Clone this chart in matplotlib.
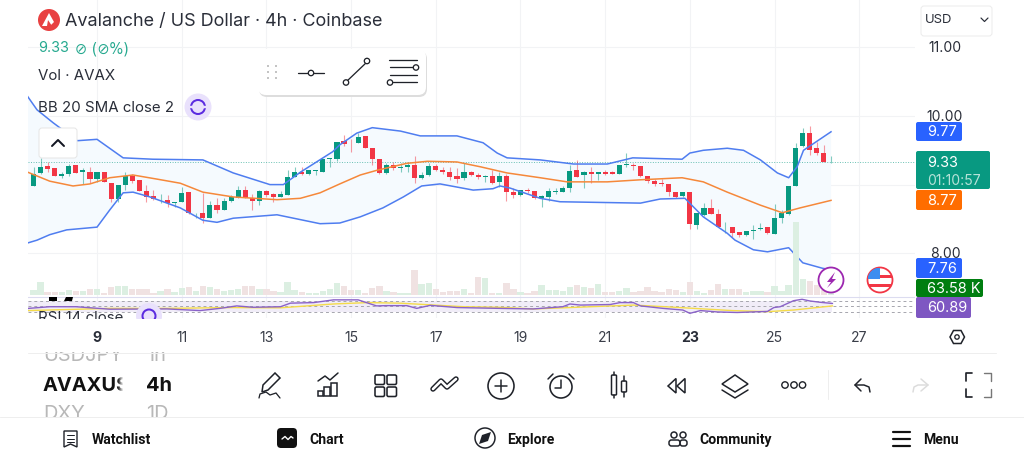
import matplotlib
matplotlib.use('Agg')
import matplotlib.pyplot as plt
import numpy as np
from matplotlib.patches import Circle, FancyBboxPatch, Polygon, Rectangle

plt.rcParams['font.family'] = ['Inter', 'DejaVu Sans']

# 4h candles
opens = [8.98, 9.17, 9.27, 9.24, 9.125, 9.15, 9.28, 9.18, 9.19, 9.08, 9.18, 9.03, 8.79, 9.00, 9.13, 9.07, 8.91, 8.84, 8.785,
         8.78, 8.73, 8.75, 8.89, 8.58, 8.585, 8.51, 8.70, 8.63, 8.755, 8.81, 8.915, 8.80, 8.765, 8.90, 8.86, 8.82, 8.85,
         9.105, 9.18, 9.15, 9.20, 9.19, 9.38, 9.37, 9.635, 9.61, 9.606, 9.71, 9.54, 9.38, 9.17, 9.28, 9.24, 9.26, 9.285,
         9.09, 9.135, 9.27, 9.21, 9.19, 9.125, 9.09, 9.18, 9.14, 9.11, 9.13, 9.04, 9.125, 8.89, 8.85, 8.92, 8.90, 8.80,
         8.82, 8.89, 8.895, 8.95, 9.21, 9.14, 9.19, 9.16, 9.19, 9.18, 9.15, 9.28, 9.29, 9.275, 9.125, 9.055, 9.02, 9.01,
         8.89, 8.83, 8.89, 8.415, 8.55, 8.66, 8.57, 8.375, 8.38, 8.31, 8.265, 8.32, 8.35, 8.375, 8.285, 8.52, 8.57, 8.98,
         9.56, 9.757, 9.53, 9.46, 9.33]
highs = [9.26, 9.39, 9.33, 9.24, 9.19, 9.30, 9.28, 9.24, 9.26, 9.19, 9.18, 9.03, 9.00, 9.19, 9.15, 9.07, 8.99, 8.92, 8.87,
         8.85, 8.75, 8.97, 8.89, 8.59, 8.88, 8.765, 8.81, 8.80, 8.85, 8.98, 8.98, 8.87, 8.92, 8.92, 8.88, 8.91, 9.22,
         9.25, 9.26, 9.22, 9.21, 9.38, 9.39, 9.62, 9.72, 9.67, 9.75, 9.71, 9.54, 9.38, 9.31, 9.33, 9.31, 9.33, 9.42,
         9.19, 9.31, 9.295, 9.26, 9.26, 9.24, 9.31, 9.20, 9.17, 9.14, 9.21, 9.19, 9.16, 8.945, 8.92, 8.945, 8.90, 8.85,
         8.945, 8.945, 8.98, 9.285, 9.36, 9.20, 9.26, 9.19, 9.21, 9.20, 9.285, 9.455, 9.32, 9.275, 9.125, 9.075, 9.075, 9.01,
         8.89, 8.89, 8.89, 8.59, 8.73, 8.785, 8.65, 8.45, 8.38, 8.31, 8.32, 8.41, 8.44, 8.375, 8.72, 8.63, 8.98, 9.60,
         9.82, 9.85, 9.625, 9.575, 9.41]
lows = [8.98, 9.16, 9.19, 9.13, 9.10, 9.125, 9.17, 9.01, 9.02, 9.04, 9.04, 8.74, 8.75, 8.92, 9.02, 8.90, 8.75, 8.775, 8.73,
        8.68, 8.67, 8.75, 8.57, 8.51, 8.445, 8.51, 8.59, 8.63, 8.75, 8.80, 8.80, 8.63, 8.70, 8.82, 8.75, 8.815, 8.85,
        9.105, 9.14, 9.145, 9.14, 9.19, 9.26, 9.35, 9.56, 9.48, 9.60, 9.53, 9.29, 9.15, 9.16, 9.21, 9.19, 9.19, 9.02,
        9.08, 9.125, 9.20, 9.16, 9.06, 9.02, 9.06, 9.13, 9.08, 9.04, 9.01, 8.96, 8.765, 8.81, 8.84, 8.88, 8.79, 8.68,
        8.765, 8.87, 8.89, 8.895, 9.115, 8.945, 9.02, 9.07, 9.14, 9.15, 9.15, 9.25, 9.22, 9.115, 9.03, 8.98, 8.98, 8.83,
        8.81, 8.82, 8.36, 8.36, 8.54, 8.57, 8.375, 8.29, 8.24, 8.23, 8.25, 8.20, 8.34, 8.28, 8.28, 8.435, 8.56, 8.98,
        9.55, 9.43, 9.435, 9.33, 9.32]
closes = [9.16, 9.26, 9.23, 9.13, 9.15, 9.27, 9.17, 9.21, 9.08, 9.19, 9.04, 8.79, 9.00, 9.13, 9.05, 8.91, 8.82, 8.79, 8.79,
          8.73, 8.75, 8.88, 8.58, 8.59, 8.52, 8.70, 8.63, 8.755, 8.82, 8.915, 8.80, 8.765, 8.90, 8.85, 8.82, 8.86, 9.11,
          9.18, 9.15, 9.21, 9.21, 9.38, 9.39, 9.62, 9.59, 9.60, 9.70, 9.54, 9.38, 9.17, 9.29, 9.24, 9.26, 9.285, 9.09,
          9.14, 9.27, 9.21, 9.19, 9.115, 9.085, 9.18, 9.14, 9.11, 9.13, 9.03, 9.125, 8.89, 8.85, 8.915, 8.90, 8.80, 8.83,
          8.90, 8.905, 8.95, 9.20, 9.115, 9.18, 9.16, 9.18, 9.16, 9.16, 9.285, 9.295, 9.27, 9.12, 9.05, 9.01, 9.01, 8.885,
          8.82, 8.89, 8.425, 8.59, 8.66, 8.575, 8.375, 8.385, 8.30, 8.26, 8.32, 8.34, 8.365, 8.29, 8.52, 8.58, 8.98, 9.53,
          9.757, 9.51, 9.46, 9.33, 9.335]

# volume, thousands
volumes = [45, 117, 27, 27, 27, 45, 36, 36, 54, 54, 18, 72, 81, 81, 54, 54, 54, 18, 36, 54, 27, 63, 72, 36, 81, 72, 54, 36,
           45, 54, 81, 81, 54, 54, 36, 27, 117, 45, 27, 18, 18, 36, 54, 108, 81, 45, 45, 18, 63, 81, 36, 27, 18, 18, 225,
           99, 108, 54, 27, 36, 36, 54, 18, 162, 153, 18, 18, 108, 54, 27, 18, 36, 90, 45, 45, 36, 72, 90, 72, 63, 99, 27,
           27, 36, 63, 27, 36, 72, 36, 27, 54, 45, 27, 117, 36, 18, 45, 99, 54, 54, 54, 27, 36, 36, 27, 81, 36, 90, 657,
           144, 126, 90, 45, 63.58]

# Bollinger bands, read at the bends of each line
upper_idx = [-0.8, 0.5, 2.8, 6.2, 9, 12.7, 16.9, 24, 28.3, 33.5, 35.4, 37.8, 42.4, 43.4, 45.8, 48, 52, 54.8, 60, 63.7, 65.7,
             67.1, 71.8, 76.5, 81.3, 84.9, 91.9, 93, 94.9, 98.3, 100.6, 103, 105.4, 107, 108.2, 109.1, 113]
upper = [10.28, 10.09, 9.90, 9.64, 9.66, 9.39, 9.37, 9.36, 9.17, 9.00, 9.00, 9.18, 9.48, 9.58, 9.75, 9.83, 9.78, 9.71, 9.71,
         9.61, 9.46, 9.39, 9.36, 9.30, 9.30, 9.39, 9.37, 9.46, 9.50, 9.53, 9.50, 9.36, 9.17, 9.10, 9.26, 9.50, 9.77]
lower_idx = [-0.8, 0.5, 2.3, 4.7, 9, 10.8, 12.7, 14.1, 16.5, 20.8, 24, 26, 28.3, 34.5, 40.6, 43.4, 46.3, 49.5, 52.4, 55, 57.6,
             62.3, 65.1, 66.1, 67.5, 71.8, 74.6, 86, 88.8, 92.3, 94.9, 98.3, 99.4, 102, 104, 107, 109, 111.8, 113]
lower = [8.15, 8.19, 8.27, 8.34, 8.38, 8.63, 8.88, 8.89, 8.82, 8.66, 8.48, 8.45, 8.51, 8.56, 8.43, 8.44, 8.53, 8.66, 8.82,
         8.98, 9.01, 8.92, 8.94, 8.98, 8.95, 8.80, 8.75, 8.73, 8.79, 8.80, 8.53, 8.29, 8.19, 8.05, 8.02, 8.08, 7.86, 7.78, 7.76]
basis_idx = [-0.8, 2.3, 5.6, 8, 10.8, 14.1, 17.5, 20.8, 24, 28.3, 34.5, 37.8, 40.6, 43.4, 46.3, 48.7, 52.9, 55.8, 60, 63.3,
             67.1, 71.8, 75.6, 81.3, 86, 91.9, 94.9, 98.3, 103, 106.1, 108.6, 113]
basis = [9.18, 9.05, 8.98, 9.01, 9.10, 9.14, 9.08, 9.02, 8.89, 8.82, 8.78, 8.80, 8.88, 9.01, 9.14, 9.21, 9.31, 9.34, 9.33,
         9.26, 9.17, 9.10, 9.04, 9.04, 9.07, 9.10, 9.04, 8.89, 8.70, 8.59, 8.66, 8.77]

# RSI pane
rsi_idx = [-0.7, 2.3, 6, 10.8, 18.9, 23.6, 26.4, 28.8, 31.1, 35, 36.4, 39.7, 42.5, 46, 48.6, 50, 52.9, 54.3, 56.2, 60, 66, 70.8,
           75, 76, 77.5, 81.7, 83.1, 85, 86, 89.2, 92, 93, 94.5, 96.9, 99.7, 104, 104.9, 105.8, 107.7, 108.9, 110, 111.5, 113.2]
rsi = [43, 49, 49, 40, 41, 35, 43, 52, 47, 49, 62, 64, 74, 74, 52, 53, 53, 43, 54, 46, 43, 41, 49, 59, 55, 57, 64, 64, 52, 43,
       37, 25, 35, 30, 28, 32, 46, 49, 71, 76, 70, 65, 60.89]
rsi_ma_idx = [-0.7, 10.8, 18.9, 28, 35, 42.5, 47.3, 51.9, 61, 66, 70.8, 76, 85, 89.5, 99, 104, 107.7, 113.2]
rsi_ma = [35, 43, 43, 46, 45, 59, 64, 62, 49, 47, 41, 46, 55, 49, 35, 31, 37, 52]

tick_idx = [9, 21, 33, 45, 57, 69, 81, 93, 105, 117]
tick_labels = ['9', '11', '13', '15', '17', '19', '21', '23', '25', '27']
bold_ticks = ['9', '23']
price_ticks = [8, 9, 10, 11]
last_price = 9.33

GREEN = '#089981'
RED = '#f23645'
BLUE = '#2962ff'
ORANGE = '#ff6d00'
PURPLE = '#7e57c2'
GRID = '#f2f3f5'
INK = '#1f2229'
W, H = 1024, 461
IDX_RANGE = (-0.78, 124.9)


def pane(x0, y0, x1, y1):
    """Axes placed by pixel box, y counted from the top"""
    ax = fig.add_axes([x0 / W, 1 - y1 / H, (x1 - x0) / W, (y1 - y0) / H])
    ax.patch.set_alpha(0)
    ax.set_axis_off()
    ax.set_xlim(*IDX_RANGE)
    return ax


def line(xs, ys, color=INK, lw=1.5, z=30):
    ui.plot(xs, ys, color=color, lw=lw * 0.72, solid_capstyle='round', solid_joinstyle='round', zorder=z)


def ring(x, y, r, color=INK, lw=1.5, fill='none', z=30):
    ui.add_patch(Circle((x, y), r, fc=fill, ec=color, lw=lw * 0.72, zorder=z))


def box(x0, y0, x1, y1, color, r=2, ec='none', lw=1, z=20):
    p = FancyBboxPatch((x0, y0), x1 - x0, y1 - y0, boxstyle=f'round,pad=0,rounding_size={r}', fc=color, ec=ec,
                       lw=lw * 0.72, zorder=z)
    ui.add_patch(p)
    return p


def label(x, y, s, px=14, color=INK, weight='normal', ha='left', family=None, z=40):
    # va center sits a little high for these fonts
    return ui.text(x, y + 1.5, s, fontsize=px * 0.72, color=color, fontweight=weight, ha=ha, va='center',
                   family=family or ['Inter', 'DejaVu Sans'], zorder=z)


fig = plt.figure(figsize=(W / 100, H / 100), dpi=100, facecolor='white')

# price pane
price_to_px = 68.6
ax = pane(28, 0, 915, 296)
ax.set_ylim(10 - 180 / price_to_px, 10 + 116 / price_to_px)
for t in tick_idx:
    ax.axvline(t, color=GRID, lw=0.8, zorder=0)
for p in price_ticks:
    ax.axhline(p, color=GRID, lw=0.8, zorder=0)
ax.fill(upper_idx + lower_idx[::-1], upper + lower[::-1], color='#f5fafe', lw=0, zorder=1)
ax.axhline(last_price, color=GREEN, lw=0.7, ls=(0, (1, 1.6)), alpha=0.6, zorder=2)

idx = np.arange(len(opens))
opens_a, highs_a, lows_a, closes_a = map(np.array, (opens, highs, lows, closes))
up = closes_a >= opens_a
colors = np.where(up, GREEN, RED)
ax.vlines(idx, lows_a, highs_a, colors=colors, lw=0.8, alpha=0.5, zorder=4)
ax.bar(idx, np.abs(closes_a - opens_a), bottom=np.minimum(opens_a, closes_a), width=0.72, color=colors, lw=0, zorder=5)
ax.plot(upper_idx, upper, color='#4f7df0', lw=1.1, zorder=6)
ax.plot(lower_idx, lower, color='#4f7df0', lw=1.1, zorder=6)
ax.plot(basis_idx, basis, color='#f5883a', lw=1.1, zorder=6)

# volume shares the bottom of the price pane
vol = pane(28, 100, 915, 295)
vol.set_ylim(0, 1755)
vol.bar(idx, volumes, width=0.9, color=np.where(up, '#dcefe2', '#f0e2e2'), lw=0, zorder=3)

# RSI pane
rp = pane(28, 296, 915, 318)
rp.set_ylim(8, 88)
for t in tick_idx:
    rp.axvline(t, color=GRID, lw=0.8, zorder=0)
rp.axhspan(30, 70, xmin=0, xmax=(113.2 - IDX_RANGE[0]) / (IDX_RANGE[1] - IDX_RANGE[0]), color='#f1edf8', lw=0, zorder=1)
for lvl in (30, 50, 70):
    rp.axhline(lvl, color='#a6a6ae', lw=0.7, ls=(0, (3, 3)), zorder=2)
rp.axhline(86, color='#dcdcf0', lw=0.8, zorder=2)
rp.plot(rsi_ma_idx, rsi_ma, color='#f5dc4a', lw=1.0, zorder=3)
rp.plot(rsi_idx, rsi, color='#8a62c8', lw=1.0, zorder=4)

# interface layer in pixels
ui = fig.add_axes([0, 0, 1, 1])
ui.patch.set_alpha(0)
ui.set_axis_off()
ui.set_xlim(0, W)
ui.set_ylim(H, 0)

# header
ring(49, 20, 11, color='#e84142', fill='#e84142', lw=0)
ui.add_patch(Polygon([(49, 13), (54, 22), (50, 26), (42, 26)], fc='white', ec='none', zorder=31))
ui.add_patch(Polygon([(48, 20), (52, 26), (47, 26)], fc='#e84142', ec='none', zorder=32))
label(65, 20, 'Avalanche / US Dollar · 4h · Coinbase', 18, '#2a2e39')
label(38, 47, '9.33', 14.5, '#26a98f')
label(75, 47, '⊘ (⊘%)', 14.5, '#26a98f', family=['DejaVu Sans'])
label(38, 74, 'Vol · AVAX', 15, '#2a2e39')
label(38, 106, 'BB 20 SMA close 2', 15, '#2a2e39')
ring(198, 107, 13.5, color='none', fill='#e9e1fc', lw=0, z=25)
ring(198, 107, 7, color='#5b2be0', lw=2)
line([188.5, 193], [107, 107], '#e9e1fc', 2.5, 31)
line([203, 207.5], [107, 107], '#e9e1fc', 2.5, 31)

# drawing toolbar
box(259, 51, 427, 97, '#dddddd', 8, z=18)
box(258, 49, 426, 95, 'white', 8, z=19)
for gx in (268, 276):
    for gy in (66, 72, 78):
        ui.add_patch(Rectangle((gx - 1, gy - 1), 2, 2, fc='#c4c4c4', ec='none', zorder=30))
line([298, 324], [73, 73], lw=1.3)
ring(311, 73, 2.7, fill='white', lw=1.3, z=31)
line([346, 367], [82, 62], lw=1.3)
ring(346, 82.5, 2.7, fill='white', lw=1.3, z=31)
ring(367, 61, 2.7, fill='white', lw=1.3, z=31)
for ly, x0, x1 in ((60, 389, 417), (67.5, 390, 413), (75, 390, 417), (82.5, 393, 417)):
    line([x0, x1], [ly, ly], lw=1.3)
ring(416, 67.5, 2.7, fill='white', lw=1.3, z=31)
ring(390, 82.5, 2.7, fill='white', lw=1.3, z=31)

# collapse button
box(39, 128, 77, 158, 'white', 3, ec='#e6e6e6')
line([52, 58, 64], [146, 140, 146], '#131722', 2)

# right scale
box(921, 6, 992, 36, 'white', 3, ec='#ececec')
label(925, 18.5, 'USD', 13, '#2a2e39')
line([981, 984.5, 988], [18, 21.5, 18], '#2a2e39', 1.2)
for p_txt, py in (('11.00', 46), ('10.00', 115), ('8.00', 252)):
    label(945, py, p_txt, 14, '#2a2e39', ha='center')
tags = [(122, 141, 962, BLUE, '9.77'), (190, 210, 962, ORANGE, '8.77'), (258, 278, 962, BLUE, '7.76'),
        (279, 297, 983, '#007e10', '63.58 K'), (297, 318, 971, PURPLE, '60.89')]
for y0, y1, x1, col, txt in tags:
    box(916, y0, x1, y1, col)
    label(927, (y0 + y1) / 2 - 1, txt, 14.5, 'white')
box(916, 151, 990, 189, GREEN)
label(927, 161, '9.33', 14.5, 'white')
label(927, 179, '01:10:57', 14, '#b5e2d8')

# event badges
ring(831, 280, 12.5, color='#9c27b0', fill='white', lw=1.8, z=26)
ui.add_patch(Polygon([(835, 272), (827, 282), (831, 282), (827, 288), (836, 279), (832, 279)], fc='#9c27b0', ec='none', zorder=27))
face = Circle((880, 280), 12.5, fc='white', ec='#f23645', lw=1.8 * 0.72, zorder=26)
ui.add_patch(face)
for sy in (275, 283.5):
    ui.add_patch(Rectangle((868, sy), 25, 3.4, fc='#f23645', ec='none', zorder=27, clip_path=face))
ui.add_patch(Rectangle((868, 268), 12, 11, fc='#3d8ef0', ec='none', zorder=28, clip_path=face))

# RSI legend cut off by the axis strip
label(38, 316, 'RSI 14 close', 15, '#2a2e39', z=22)
ring(149, 316, 13, color='none', fill='#e9e1fc', lw=0, z=21)
ring(149, 316, 6.5, color='#5b2be0', lw=2, z=22)
ui.add_patch(Rectangle((28, 319), 180, 14, fc='white', ec='none', zorder=23))
ui.add_patch(Rectangle((49, 297), 8, 4, fc='black', ec='none', zorder=24))
ui.add_patch(Polygon([(64, 301), (66, 297), (73, 297), (72, 301)], fc='black', ec='none', zorder=24))

# x axis
for t, s in zip(tick_idx, tick_labels):
    px = 28 + (t - IDX_RANGE[0]) / (IDX_RANGE[1] - IDX_RANGE[0]) * 887
    label(px, 336, s, 14, '#2a2e39' if s in bold_ticks else '#3a3e49', 'bold' if s in bold_ticks else 'normal', 'center')
ui.add_patch(Polygon([(950, 337), (953.5, 330.5), (961, 330.5), (964.5, 337), (961, 343.5), (953.5, 343.5)], fc='none', ec=INK, lw=1.1, zorder=30))
ring(957, 337, 2.2, lw=1.3)

# symbol picker
for sx, sy, s, c, w in ((43, 354, 'USDJPY', '#b8b8b8', 'normal'), (146, 354, '1h', '#b8b8b8', 'normal'),
                        (43, 384, 'AVAXUS', '#111111', 'bold'), (146, 384, '4h', '#111111', 'bold'),
                        (43, 412, 'DXY', '#b8b8b8', 'normal'), (146, 412, '1D', '#b8b8b8', 'normal')):
    label(sx, sy, s, 20, c, w, z=10)
ui.imshow(np.array([[[1, 1, 1, 0], [1, 1, 1, 1]]], dtype=float), extent=(115, 126, 420, 345), aspect='auto', zorder=11,
          interpolation='bilinear')
ui.add_patch(Rectangle((126, 345), 14, 75, fc='white', ec='none', zorder=11))
ui.set_xlim(0, W)
ui.set_ylim(H, 0)
ui.add_patch(Rectangle((30, 342), 150, 10, fc='white', ec='none', zorder=12))
ui.add_patch(Rectangle((30, 417), 150, 12, fc='white', ec='none', zorder=12))
line([28, 996], [352.5, 352.5], '#eeeeee', 1, 13)
line([0, W], [417, 417], '#eeeeee', 1, 13)

# toolbar icons
ui.add_patch(Polygon([(263, 385), (275, 373), (280, 378), (268, 390), (262, 392)], fc='none', ec=INK, lw=1.1, zorder=30))
line([259, 260, 266, 270, 276, 280], [398, 394, 392, 395, 393, 398], lw=1.3)
line([318, 325, 330, 338], [381, 376, 380, 373], lw=1.5)
for bx, by, bw in ((318, 391, 5), (324, 387, 6), (331, 383, 6)):
    ui.add_patch(Rectangle((bx, by), bw, 396 - by, fc='none', ec=INK, lw=1.1, zorder=30))
for sx, sy in ((375, 375), (387, 375), (375, 387), (387, 387)):
    box(sx, sy, sx + 9.5, sy + 9.5, 'none', 1.5, ec=INK, lw=1.6, z=30)
line([433, 441, 447, 456], [389, 381, 387, 379], INK, 5.5)
line([433, 441, 447, 456], [389, 381, 387, 379], 'white', 2.6, 31)
ring(501, 386, 13, lw=1.6)
line([495, 507], [386, 386])
line([501, 501], [380, 392])
ring(561, 387, 11, lw=1.6)
line([561, 561, 555], [380, 388, 388])
line([548, 553], [379, 374])
line([574, 569], [379, 374])
for cx, cy0, cy1, wy0, wy1 in ((614, 375, 395, 372, 398), (624, 381, 392, 376, 397)):
    line([cx, cx], [wy0, cy0])
    line([cx, cx], [cy1, wy1])
    box(cx - 2.5, cy0, cx + 2.5, cy1, 'none', 1, ec=INK, lw=1.5, z=30)
for tx in (668, 677):
    ui.add_patch(Polygon([(tx, 386), (tx + 8, 378.5), (tx + 8, 393)], fc='none', ec=INK, lw=1.1, zorder=30))
ui.add_patch(Polygon([(735, 375), (748, 384), (735, 392), (722, 384)], fc='none', ec=INK, lw=1.1, zorder=30))
line([722, 735, 748], [390, 398, 390])
for dx in (785, 794, 802.5):
    ring(dx, 385, 3.2, lw=1.4)
line([828, 828], [370, 399], '#eeeeee', 1)
line([861, 855, 861], [379, 385, 391])
line([855, 864, 869, 870], [385, 385, 387, 392])
line([921, 928, 921], [379, 385, 391], '#dcdcdc')
line([928, 918, 914, 913], [385, 385, 387, 392], '#dcdcdc')
line([966, 966, 972], [381, 373, 373], lw=1.7)
line([984, 991, 991], [373, 373, 381], '#777777', 1.4)
line([966, 966, 972], [389, 397, 397], lw=1.7)
line([984, 991, 991], [397, 397, 389], '#777777', 1.4)

# bottom navigation
nav_font = ['Roboto', 'DejaVu Sans']
for nx, s in ((92, 'Watchlist'), (309, 'Chart'), (507, 'Explore'), (699, 'Community'), (923, 'Menu')):
    label(nx, 438, s, 14, '#111111', 'bold', family=nav_font)
ui.add_patch(Polygon([(64, 431), (77, 431), (77, 447), (70.5, 444), (64, 447)], fc='none', ec=INK, lw=1, zorder=30))
for ly in (435, 438.5, 442):
    line([67, 74], [ly, ly], lw=1)
box(277, 428, 297, 448, '#111111', 4)
line([282, 285, 288, 291, 293], [439, 436.5, 439.5, 436.5, 438], 'white', 1.4)
ring(485, 438, 10, lw=1.5)
ui.add_patch(Polygon([(491, 432), (488, 441), (479, 444), (482, 435)], fc=INK, ec='none', zorder=31))
ring(674, 435, 3, lw=1.5)
ring(683, 435, 3, lw=1.5)
box(669, 440, 680, 446, 'none', 2.5, ec=INK, lw=1.5, z=30)
box(680, 440, 687, 446, 'none', 2.5, ec=INK, lw=1.5, z=30)
for ly in (432, 439, 445.5):
    line([893, 910], [ly, ly], '#111111', 2.2)

fig.savefig('out.png', dpi=100, facecolor='white')
plt.close(fig)
